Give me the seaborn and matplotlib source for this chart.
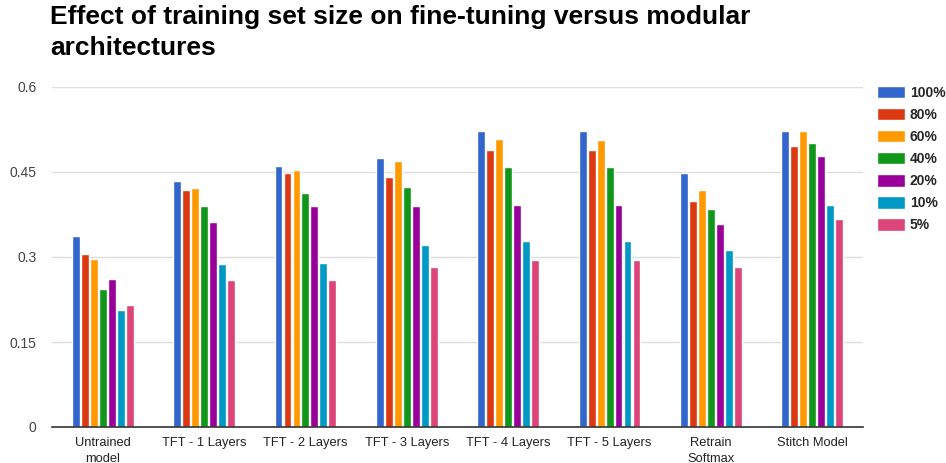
import matplotlib
matplotlib.use("Agg")
import matplotlib.pyplot as plt
import seaborn as sns
import pandas as pd

categories = ["Untrained\nmodel", "TFT - 1 Layers", "TFT - 2 Layers", "TFT - 3 Layers",
              "TFT - 4 Layers", "TFT - 5 Layers", "Retrain\nSoftmax", "Stitch Model"]
series = ["100%", "80%", "60%", "40%", "20%", "10%", "5%"]

pct_100 = [0.337, 0.434, 0.460, 0.475, 0.523, 0.522, 0.449, 0.522]
pct_80 = [0.305, 0.419, 0.448, 0.441, 0.489, 0.489, 0.399, 0.496]
pct_60 = [0.297, 0.422, 0.454, 0.469, 0.508, 0.507, 0.419, 0.522]
pct_40 = [0.243, 0.390, 0.413, 0.423, 0.458, 0.458, 0.384, 0.501]
pct_20 = [0.262, 0.361, 0.390, 0.390, 0.391, 0.391, 0.359, 0.478]
pct_10 = [0.206, 0.287, 0.290, 0.322, 0.329, 0.329, 0.313, 0.391]
pct_5 = [0.216, 0.260, 0.260, 0.283, 0.294, 0.294, 0.282, 0.367]

colors = ["#3366cc", "#dc3912", "#ff9900", "#109618", "#990099", "#0099c6", "#dd4477"]

rows = []
for name, vals in zip(series, [pct_100, pct_80, pct_60, pct_40, pct_20, pct_10, pct_5]):
    for cat, v in zip(categories, vals):
        rows.append({"model": cat, "size": name, "value": v})
df = pd.DataFrame(rows)

sns.set_style("white")
plt.rcParams["font.family"] = ["Liberation Sans", "DejaVu Sans"]

W, H = 946, 463
fig = plt.figure(figsize=(W / 100, H / 100), dpi=100)
# plot area: x 52..863 px, y 87..427 px
ax = fig.add_axes([52 / W, 1 - 427 / H, (863 - 52) / W, (427 - 87) / H])

sns.barplot(data=df, x="model", y="value", hue="size", order=categories,
            hue_order=series, palette=colors, width=0.62, gap=0.12,
            saturation=1, ax=ax, legend=True)

ax.set_ylim(0, 0.6)
ax.set_xlim(-0.5, len(categories) - 0.5)
ax.set_yticks([0, 0.15, 0.3, 0.45, 0.6])
ax.set_yticklabels(["0", "0.15", "0.3", "0.45", "0.6"])
ax.yaxis.grid(True, color="#dddddd", linewidth=1)
ax.set_axisbelow(True)
for s in ["top", "right", "left"]:
    ax.spines[s].set_visible(False)
ax.spines["bottom"].set_color("#333333")
ax.spines["bottom"].set_linewidth(1.2)
ax.tick_params(axis="both", length=0)
ax.tick_params(axis="y", pad=11, labelsize=10, labelcolor="#444444")
ax.tick_params(axis="x", pad=7, labelsize=9.3, labelcolor="#222222")
for t in ax.get_xticklabels():
    t.set_linespacing(1.45)
ax.set_xlabel("")
ax.set_ylabel("")

handles, labels = ax.get_legend_handles_labels()
ax.legend(handles, labels, loc="upper left", bbox_to_anchor=(877 / W, 1 - 86 / H),
          bbox_transform=fig.transFigure, borderaxespad=0, borderpad=0,
          frameon=False, prop={"weight": "bold", "size": 10},
          handlelength=2.0, handleheight=0.97, labelspacing=0.58, handletextpad=0.35)

fig.text(50 / W, 1 - 5 / H,
         "Effect of training set size on fine-tuning versus modular\narchitectures",
         ha="left", va="top", fontsize=19, fontweight="bold", color="#000000",
         linespacing=1.38)

fig.savefig("out.png", dpi=100)
